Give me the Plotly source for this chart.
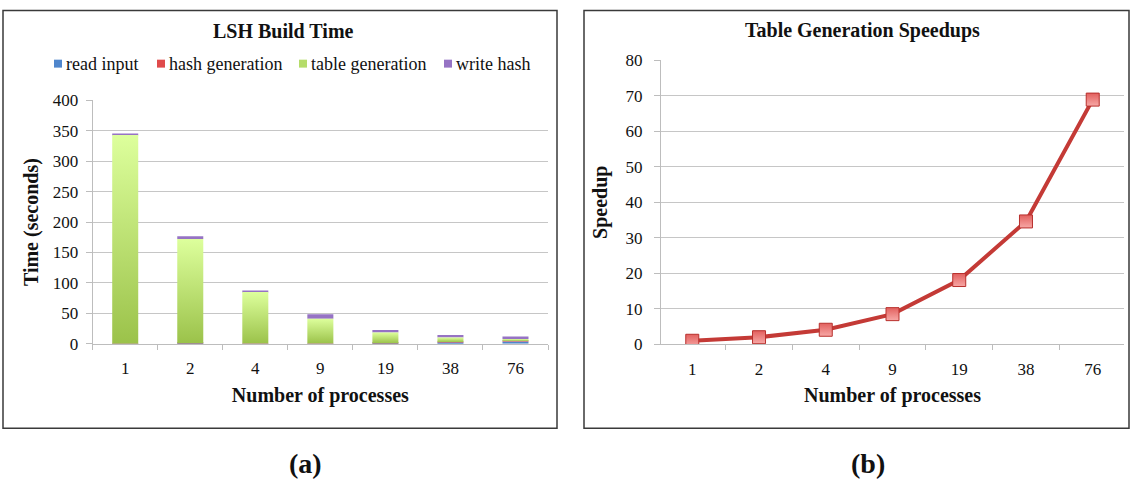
import plotly.graph_objects as go

# ---- data -------------------------------------------------------------
processes = ["1", "2", "4", "9", "19", "38", "76"]

read_input = [0.2, 0.8, 0.3, 0.3, 0.8, 2.5, 4.0]
hash_generation = [0.1, 0.1, 0.1, 0.1, 0.2, 0.4, 0.5]
table_generation = [342.8, 171.4, 84.9, 40.9, 17.5, 7.4, 3.3]
write_hash = [2.5, 4.5, 2.5, 7.5, 4.2, 4.0, 4.2]

speedup = [1.0, 2.0, 4.1, 8.5, 18.1, 34.6, 68.9]

series_names = ["read input", "hash generation", "table generation", "write hash"]

# ---- style ------------------------------------------------------------
SERIF = "Liberation Serif, Times New Roman, Times, serif"
GRID = "#C6C6C6"
AXIS = "#BDBDBD"
BAR_W = 0.4

C_READ = "#4F86CC"
C_HASH = "#E04B4B"
C_WRITE = "#9673C4"
C_TABLE = "#B5DC6A"
C_TABLE_TOP = "#DDFF9C"
C_TABLE_BOT = "#9BC24A"

W = 1132
TOP, H = 8, 464  # vertical placement of the drawing area on the page


def px_x(x):
    return x / W


def px_y(y):
    return 1 - (y - TOP) / H


fig = go.Figure()

idx = list(range(len(processes)))
base_hash = [r for r in read_input]
base_table = [r + h for r, h in zip(read_input, hash_generation)]
base_write = [r + h + t for r, h, t in zip(read_input, hash_generation, table_generation)]

fig.add_trace(go.Bar(
    x=idx, y=read_input, width=BAR_W, name=series_names[0],
    marker=dict(color=C_READ, line=dict(width=0)), xaxis="x", yaxis="y",
))
fig.add_trace(go.Bar(
    x=idx, y=hash_generation, base=base_hash, width=BAR_W, name=series_names[1],
    marker=dict(color=C_HASH, line=dict(width=0)), xaxis="x", yaxis="y",
))

# table generation segments: one filled polygon per bar so each carries
# its own vertical light-to-dark gradient
for i, (b, h) in enumerate(zip(base_table, table_generation)):
    xl, xr = idx[i] - BAR_W / 2, idx[i] + BAR_W / 2
    fig.add_trace(go.Scatter(
        x=[xl, xr, xr, xl, xl], y=[b, b, b + h, b + h, b],
        mode="lines", fill="toself", line=dict(width=0, color=C_TABLE_BOT),
        fillgradient=dict(type="vertical",
                          colorscale=[[0, C_TABLE_BOT], [1, C_TABLE_TOP]]),
        name=series_names[2], xaxis="x", yaxis="y", hoverinfo="skip",
    ))

fig.add_trace(go.Bar(
    x=idx, y=write_hash, base=base_write, width=BAR_W, name=series_names[3],
    marker=dict(color=C_WRITE, line=dict(width=0)), xaxis="x", yaxis="y",
))

# speedup line
fig.add_trace(go.Scatter(
    x=processes, y=speedup, mode="lines+markers",
    line=dict(color="#C43A36", width=4),
    marker=dict(symbol="square", size=13, color="#E2605E",
                line=dict(color="#B8302D", width=1),
                gradient=dict(type="vertical", color="#F7A8A6")),
    xaxis="x2", yaxis="y2",
))

tick_font = dict(family=SERIF, size=17, color="#111111")
title_font = dict(family=SERIF, size=20, color="#111111")

fig.update_layout(
    width=W, height=480,
    margin=dict(l=0, r=0, t=0, b=0),
    paper_bgcolor="white", plot_bgcolor="white",
    barmode="overlay",
    showlegend=False,
    xaxis=dict(
        domain=[px_x(92.7), px_x(548)], range=[-0.5, 6.5],
        tickmode="array", tickvals=idx, ticktext=processes, ticks="",
        tickfont=tick_font, ticklabelstandoff=9, showgrid=False, zeroline=False,
        showline=True, linecolor=AXIS, linewidth=1,
        minor=dict(tickmode="array", tickvals=[i - 0.5 for i in range(len(processes) + 1)],
                   ticks="outside", ticklen=5, tickcolor=AXIS, showgrid=False),
        title=dict(text="<b>Number of processes</b>", font=title_font, standoff=10),
    ),
    yaxis=dict(
        domain=[px_y(345), px_y(100)], range=[0, 400], dtick=50,
        tickfont=tick_font, ticks="outside", ticklen=6, tickcolor=AXIS,
        ticklabelstandoff=4,
        showgrid=True, gridcolor=GRID, gridwidth=1.2, zeroline=False,
        showline=True, linecolor=AXIS, linewidth=1,
        title=dict(text="<b>Time (seconds)</b>", font=title_font, standoff=8),
    ),
    xaxis2=dict(
        domain=[px_x(661), px_x(1124)], type="category", tickson="boundaries",
        ticks="outside", ticklen=5, tickcolor=AXIS,
        tickfont=tick_font, ticklabelstandoff=9, showgrid=False, zeroline=False,
        showline=True, linecolor=AXIS, linewidth=1,
        title=dict(text="<b>Number of processes</b>", font=title_font, standoff=10),
        anchor="y2",
    ),
    yaxis2=dict(
        domain=[px_y(345.5), px_y(59.5)], range=[0, 80], dtick=10,
        tickfont=tick_font, ticks="outside", ticklen=6, tickcolor=AXIS,
        ticklabelstandoff=8,
        showgrid=True, gridcolor=GRID, gridwidth=1.2, zeroline=False,
        showline=True, linecolor=AXIS, linewidth=1,
        title=dict(text="<b>Speedup</b>", font=title_font, standoff=12),
        anchor="x2",
    ),
)

# panel frames
for x0, x1 in [(3, 557), (584, 1129)]:
    fig.add_shape(type="rect", xref="paper", yref="paper",
                  x0=px_x(x0), x1=px_x(x1), y0=px_y(430), y1=0.997,
                  line=dict(color="#3A3A3A", width=1.5), fillcolor="rgba(0,0,0,0)", layer="below")

# legend row above the bar chart: small colour swatch followed by the series name
legend_colors = [C_READ, C_HASH, C_TABLE, C_WRITE]
legend_text_left = [66, 169, 311, 456]
for name, color, lx in zip(series_names, legend_colors, legend_text_left):
    fig.add_shape(type="rect", xref="paper", yref="paper",
                  x0=px_x(lx - 12), x1=px_x(lx - 4), y0=px_y(67), y1=px_y(59),
                  line=dict(width=0), fillcolor=color)
    fig.add_annotation(
        text=name, xref="paper", yref="paper", x=px_x(lx - 2), y=px_y(63),
        xanchor="left", yanchor="middle", showarrow=False,
        font=dict(family=SERIF, size=18, color="#111111"),
    )

# panel titles and captions
annotations = [
    ("<b>LSH Build Time</b>", 283, 30, 20),
    ("<b>Table Generation Speedups</b>", 862, 30, 20),
    ("<b>(a)</b>", 305, 465, 28),
    ("<b>(b)</b>", 868, 465, 28),
]
for text, ax, ay, size in annotations:
    fig.add_annotation(text=text, xref="paper", yref="paper",
                       x=px_x(ax), y=px_y(ay), xanchor="center", yanchor="middle",
                       showarrow=False, font=dict(family=SERIF, size=size, color="#111111"))

fig.write_html("out.html")
